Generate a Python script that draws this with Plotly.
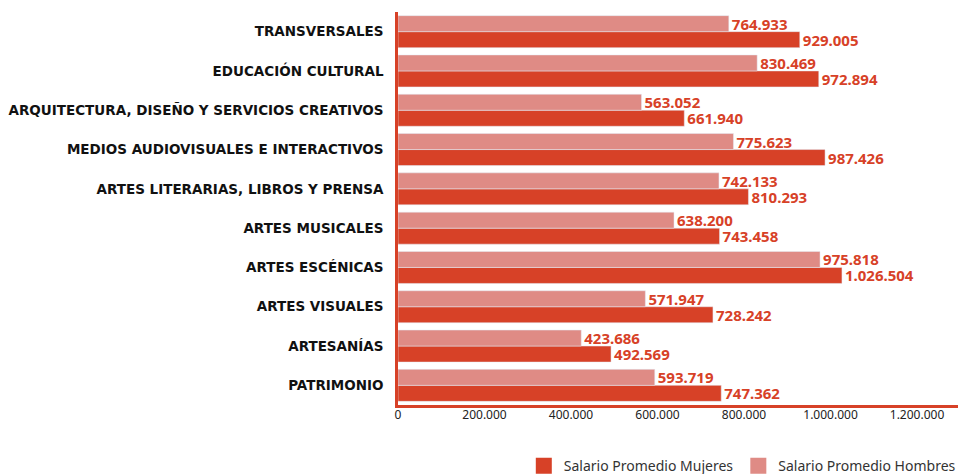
import plotly.graph_objects as go

# Categories listed bottom-to-top
categories = [
    "PATRIMONIO",
    "ARTESANÍAS",
    "ARTES VISUALES",
    "ARTES ESCÉNICAS",
    "ARTES MUSICALES",
    "ARTES LITERARIAS, LIBROS Y PRENSA",
    "MEDIOS AUDIOVISUALES E INTERACTIVOS",
    "ARQUITECTURA, DISEÑO Y SERVICIOS CREATIVOS",
    "EDUCACIÓN CULTURAL",
    "TRANSVERSALES",
]
salario_mujeres = [747362, 492569, 728242, 1026504, 743458, 810293, 987426, 661940, 972894, 929005]
salario_hombres = [593719, 423686, 571947, 975818, 638200, 742133, 775623, 563052, 830469, 764933]
x_ticks = [0, 200000, 400000, 600000, 800000, 1000000, 1200000]
series_names = ["Salario Promedio Mujeres", "Salario Promedio Hombres"]

DARK = "#d74127"
LIGHT = "#df8b85"
colors = [DARK, LIGHT]

fig = go.Figure()
for name, vals, col in zip(series_names, [salario_mujeres, salario_hombres], colors):
    fig.add_trace(go.Bar(
        y=categories, x=vals, orientation="h",
        name=name, marker_color=col, showlegend=False,
        texttemplate="%{x:,.0f}", textposition="outside", constraintext="none",
        cliponaxis=False,
        textfont=dict(family="Noto Sans", size=15, color=DARK, weight="bold"),
    ))
# legend entries with larger square swatches
for name, col in zip(series_names, colors):
    fig.add_trace(go.Scatter(
        x=[None], y=[None], mode="markers", name=name,
        marker=dict(symbol="square", size=20, color=col),
    ))

fig.update_layout(
    width=959, height=474,
    margin=dict(l=398, r=1, t=12, b=69, autoexpand=False),
    barmode="group", bargap=0.186, bargroupgap=0,
    separators=",.",
    plot_bgcolor="white", paper_bgcolor="white",
    showlegend=True,
    legend=dict(orientation="h", x=1.005, xanchor="right", y=-0.115, yanchor="top",
                font=dict(family="Noto Sans", size=14, color="#333333"),
                itemsizing="trace", tracegroupgap=0),
    xaxis=dict(range=[0, 1294800], tickvals=x_ticks, tickformat=",.0f",
               showgrid=False, zeroline=False, showline=True, linecolor=DARK, linewidth=2.5,
               tickfont=dict(family="Noto Sans", size=12, color="#222222"), ticks="",
               ticklabelstandoff=-3),
    yaxis=dict(showgrid=False, zeroline=False, showline=True, linecolor=DARK, linewidth=2.5,
               ticks="", ticklabelstandoff=9,
               tickfont=dict(family="DejaVu Sans", size=13.5, color="#111111", weight="bold")),
)

fig.write_html("out.html", config={"displayModeBar": False},
               post_script="document.body.style.margin='0';document.body.style.overflow='hidden';")
